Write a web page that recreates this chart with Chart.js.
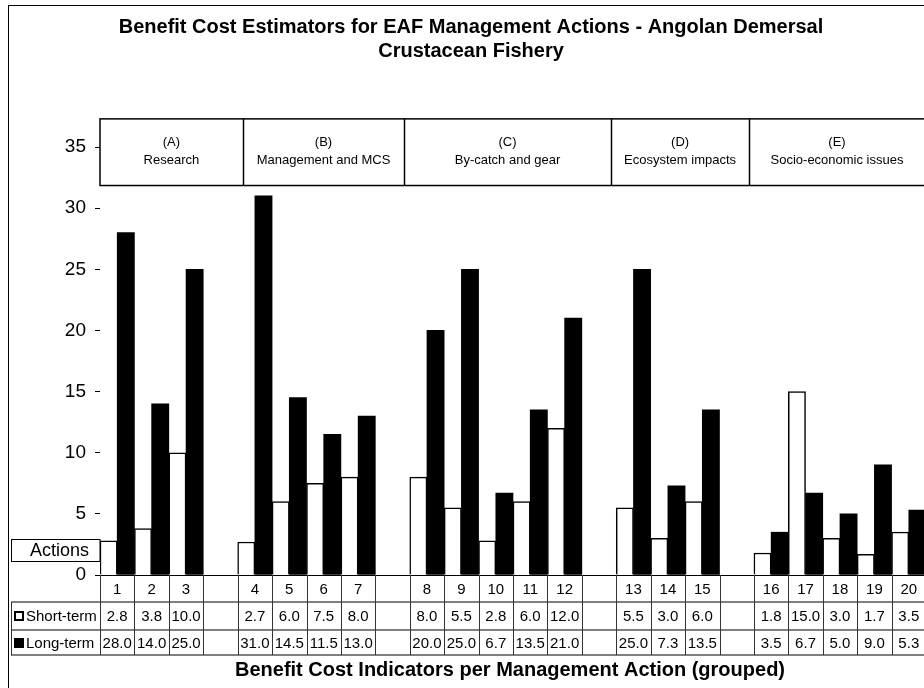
<!DOCTYPE html>
<html>
<head>
<meta charset="utf-8">
<title>Benefit Cost Estimators - Angolan Demersal Crustacean Fishery</title>
<script src="https://cdn.jsdelivr.net/npm/chart.js@4.4.1/dist/chart.umd.min.js"></script>
<style>
  html, body { margin: 0; padding: 0; background: #fff; overflow: hidden; }
  #wrap { position: absolute; left: 0; top: 0; width: 926px; height: 688px; }
</style>
</head>
<body>
<div id="wrap"><canvas id="chart" width="926" height="688"></canvas></div>
<script>
// ── Data ───────────────────────────────────────────────────────
// empty labels are the spacer columns between the groups
const ACTIONS = ['1', '2', '3', '', '4', '5', '6', '7', '', '8', '9', '10', '11', '12', '',
  '13', '14', '15', '', '16', '17', '18', '19', '20'];
const SHORT_TERM = [2.8, 3.8, 10.0, null, 2.7, 6.0, 7.5, 8.0, null, 8.0, 5.5, 2.8, 6.0, 12.0, null,
  5.5, 3.0, 6.0, null, 1.8, 15.0, 3.0, 1.7, 3.5];
const LONG_TERM = [28.0, 14.0, 25.0, null, 31.0, 14.5, 11.5, 13.0, null, 20.0, 25.0, 6.7, 13.5, 21.0, null,
  25.0, 7.3, 13.5, null, 3.5, 6.7, 5.0, 9.0, 5.3];
const Y_TICKS = [0, 5, 10, 15, 20, 25, 30, 35];
const GROUP_TAGS = ['(A)', '(B)', '(C)', '(D)', '(E)'];
const GROUP_NAMES = ['Research', 'Management and MCS', 'By-catch and gear', 'Ecosystem impacts', 'Socio-economic issues'];
const TITLE_LINES = ['Benefit Cost Estimators for EAF Management Actions - Angolan Demersal', 'Crustacean Fishery'];
const X_TITLE = 'Benefit Cost Indicators per Management Action (grouped)';
const Y_TITLE = 'Actions';

(function () {
  'use strict';

  const FONT = '"Liberation Sans", Arial, Helvetica, sans-serif';
  Chart.defaults.font.family = FONT;
  Chart.defaults.color = '#000';

  // group box edges, in category-index units (boxes were placed by hand in the original)
  const GROUP_EDGES = [-0.5, 3.65, 8.34, 14.34, 18.37, 23.6];

  // ── Overlay: title, frame, group boxes, data table ─────────────
  const overlay = {
    id: 'overlay',
    afterDraw(chart) {
      const ctx = chart.ctx;
      const xs = chart.scales.x;
      const ys = chart.scales.y;
      const area = chart.chartArea;
      const half = (xs.getPixelForValue(1) - xs.getPixelForValue(0)) / 2;
      const edge = u => xs.getPixelForValue(u);

      ctx.save();

      // outer frame
      ctx.strokeStyle = '#000';
      ctx.lineWidth = 1;
      ctx.strokeRect(8.5, 5.5, 2000, 2000);

      // title
      ctx.fillStyle = '#000';
      ctx.textAlign = 'center';
      ctx.textBaseline = 'middle';
      ctx.font = 'bold 20px ' + FONT;
      ctx.fillText(TITLE_LINES[0], 471, 27);
      ctx.fillText(TITLE_LINES[1], 471, 51);

      // group header boxes
      const bTop = ys.getPixelForValue(37.3);
      const bBot = ys.getPixelForValue(31.85);
      ctx.lineWidth = 1.5;
      ctx.strokeRect(edge(GROUP_EDGES[0]), bTop, edge(GROUP_EDGES[5]) + 40 - edge(GROUP_EDGES[0]), bBot - bTop);
      ctx.font = '13px ' + FONT;
      GROUP_NAMES.forEach((name, i) => {
        const l = edge(GROUP_EDGES[i]);
        const r = i === 4 ? 926 : edge(GROUP_EDGES[i + 1]);
        if (i > 0) {
          ctx.beginPath();
          ctx.moveTo(Math.round(l) + 0.5, bTop);
          ctx.lineTo(Math.round(l) + 0.5, bBot);
          ctx.stroke();
        }
        const cx = i === 4 ? 837 : (l + r) / 2;
        ctx.fillText(GROUP_TAGS[i], cx, bTop + 24);
        ctx.fillText(name, cx, bTop + 42);
      });

      // "Actions" box
      ctx.lineWidth = 1;
      ctx.strokeRect(11.5, 539.5, area.left - 11.5, 22);
      ctx.font = '18px ' + FONT;
      ctx.textAlign = 'right';
      ctx.fillText(Y_TITLE, 89, 551);

      // data table
      const t0 = area.bottom, t1 = 602, t2 = 630, t3 = 655;
      ctx.strokeStyle = '#555';
      ctx.lineWidth = 1.5;
      [t1, t2, t3].forEach(y => {
        ctx.beginPath();
        ctx.moveTo(11, y);
        ctx.lineTo(926, y);
        ctx.stroke();
      });
      ctx.strokeStyle = '#333';
      ctx.lineWidth = 1;
      ctx.beginPath();
      ctx.moveTo(11.5, t1);
      ctx.lineTo(11.5, t3);
      for (let i = 0; i <= ACTIONS.length; i++) {
        const x = Math.round(xs.getPixelForValue(i) - half) + 0.5;
        ctx.moveTo(x, t0);
        ctx.lineTo(x, t3);
      }
      ctx.stroke();

      ctx.fillStyle = '#000';
      ctx.textAlign = 'center';
      ctx.font = '15px ' + FONT;
      ACTIONS.forEach((lab, i) => {
        const cx = xs.getPixelForValue(i);
        if (lab) ctx.fillText(lab, cx, (t0 + t1) / 2 + 1);
        if (SHORT_TERM[i] != null) ctx.fillText(SHORT_TERM[i].toFixed(1), cx, (t1 + t2) / 2 + 1);
        if (LONG_TERM[i] != null) ctx.fillText(LONG_TERM[i].toFixed(1), cx, (t2 + t3) / 2 + 1);
      });

      // legend keys
      ctx.textAlign = 'left';
      ctx.fillText('Short-term', 26, (t1 + t2) / 2 + 1);
      ctx.fillText('Long-term', 26, (t2 + t3) / 2 + 1);
      ctx.lineWidth = 2;
      ctx.strokeStyle = '#000';
      ctx.strokeRect(15, (t1 + t2) / 2 - 4, 8, 8);
      ctx.fillRect(14, (t2 + t3) / 2 - 4.5, 10, 10);

      // x title
      ctx.textAlign = 'center';
      ctx.font = 'bold 20px ' + FONT;
      ctx.fillText(X_TITLE, 510, 670);

      ctx.restore();
    },
  };

  // ── Chart ──────────────────────────────────────────────────────
  new Chart(document.getElementById('chart'), {
    type: 'bar',
    data: {
      labels: ACTIONS,
      datasets: [
        {
          label: 'Short-term',
          data: SHORT_TERM,
          backgroundColor: '#fff',
          borderColor: '#000',
          borderWidth: 1.5,
          categoryPercentage: 1,
          barPercentage: 1,
        },
        {
          label: 'Long-term',
          data: LONG_TERM,
          backgroundColor: '#000',
          borderColor: '#000',
          borderWidth: 0,
          categoryPercentage: 1,
          barPercentage: 1,
        },
      ],
    },
    options: {
      responsive: false,
      animation: false,
      layout: { padding: { top: 147, left: 0, right: 0, bottom: 0 } },
      plugins: {
        legend: { display: false },
        tooltip: { enabled: false },
        title: { display: false },
      },
      scales: {
        x: {
          ticks: { display: false },
          grid: { drawOnChartArea: false, drawTicks: false },
          border: { display: true, color: '#000', width: 1 },
          afterFit: s => { s.height = 113; },
        },
        y: {
          min: 0,
          max: 35,
          afterBuildTicks: s => { s.ticks = Y_TICKS.map(v => ({ value: v })); },
          ticks: { font: { size: 19 }, color: '#000', padding: 9 },
          grid: { drawOnChartArea: false, drawTicks: true, tickLength: 5, color: '#000' },
          border: { display: false },
          afterFit: s => { s.width = 100; },
        },
      },
    },
    plugins: [overlay],
  });
})();
</script>
</body>
</html>
